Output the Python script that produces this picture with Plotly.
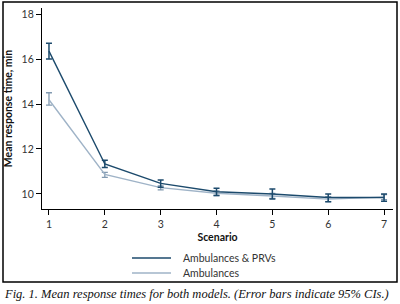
import plotly.graph_objects as go

scenarios = [1, 2, 3, 4, 5, 6, 7]
prv_mean = [16.35, 11.33, 10.47, 10.10, 10.00, 9.84, 9.84]
prv_lo = [16.00, 11.18, 10.30, 9.93, 9.78, 9.65, 9.67]
prv_hi = [16.70, 11.50, 10.62, 10.25, 10.22, 10.00, 10.00]
amb_mean = [14.19, 10.87, 10.28, 10.03, 9.91, 9.77, 9.86]
amb_lo = [13.95, 10.74, 10.18, 9.93, 9.80, 9.66, 9.75]
amb_hi = [14.50, 10.96, 10.36, 10.13, 10.02, 9.88, 9.97]
y_ticks = [10, 12, 14, 16, 18]
series_names = ["Ambulances & PRVs", "Ambulances"]

DARK = "#1c4a6c"
LIGHT = "#9fb3c7"
LIGHT_ERR = "#8199b0"
SANS = "Lato"

fig = go.Figure()
fig.add_trace(go.Scatter(
    x=scenarios, y=amb_mean, mode="lines", name=series_names[1],
    line=dict(color=LIGHT, width=1.4), showlegend=False,
    error_y=dict(type="data", symmetric=False,
                 array=[h - m for h, m in zip(amb_hi, amb_mean)],
                 arrayminus=[m - l for m, l in zip(amb_mean, amb_lo)],
                 color=LIGHT_ERR, thickness=1.3, width=3)))
fig.add_trace(go.Scatter(
    x=scenarios, y=prv_mean, mode="lines", name=series_names[0],
    line=dict(color=DARK, width=1.4), showlegend=False,
    error_y=dict(type="data", symmetric=False,
                 array=[h - m for h, m in zip(prv_hi, prv_mean)],
                 arrayminus=[m - l for m, l in zip(prv_mean, prv_lo)],
                 color=DARK, thickness=1.5, width=3)))

L, R, T, B = 42, 393, 8, 209
W = R - L
H = B - T
def px(x):
    return (x - L) / W
def py(y):
    return (B - y) / H

shapes = [
    dict(type="rect", xref="paper", yref="paper", x0=px(3), x1=px(397), y0=py(282), y1=py(2),
         line=dict(color="black", width=1.5), fillcolor="rgba(0,0,0,0)", layer="below"),
    dict(type="line", xref="paper", yref="paper", x0=px(132), x1=px(171), y0=py(258), y1=py(258),
         line=dict(color=DARK, width=1.4)),
    dict(type="line", xref="paper", yref="paper", x0=px(132), x1=px(171), y0=py(273), y1=py(273),
         line=dict(color=LIGHT, width=1.4)),
]
annotations = [
    dict(xref="paper", yref="paper", x=px(181), y=py(258), text=series_names[0], showarrow=False,
         xanchor="left", yanchor="middle", font=dict(size=10.5, color="#333", family=SANS)),
    dict(xref="paper", yref="paper", x=px(181), y=py(273), text=series_names[1], showarrow=False,
         xanchor="left", yanchor="middle", font=dict(size=10.5, color="#333", family=SANS)),
    dict(xref="paper", yref="paper", x=px(2), y=py(294), showarrow=False, xanchor="left", yanchor="middle",
         text="<i>Fig. 1. Mean response times for both models. (Error bars indicate 95% CIs.)</i>",
         font=dict(size=12.5, color="#111", family="Liberation Serif")),
]

fig.update_layout(
    width=400, height=304,
    margin=dict(l=L, r=400 - R, t=T, b=304 - B),
    paper_bgcolor="white", plot_bgcolor="white",
    shapes=shapes, annotations=annotations,
    font=dict(family=SANS, size=10.5, color="#333"),
    xaxis=dict(range=[0.875, 7.16], tickvals=scenarios, showline=True, linecolor="black", linewidth=1.3,
               ticks="outside", ticklen=5, tickcolor="black", showgrid=False, zeroline=False,
               title=dict(text="<b>Scenario</b>", standoff=4, font=dict(size=10.5, color="#111"))),
    yaxis=dict(range=[9.33, 18.27], tickvals=y_ticks, showline=True, linecolor="black", linewidth=1.3,
               ticks="outside", ticklen=5, tickcolor="black", showgrid=False, zeroline=False,
               title=dict(text="<b>Mean response time, min</b>", standoff=6, font=dict(size=10.5, color="#111"))),
)

fig.write_html("out.html", config={"displayModeBar": False},
               post_script="document.body.style.margin='0';")
